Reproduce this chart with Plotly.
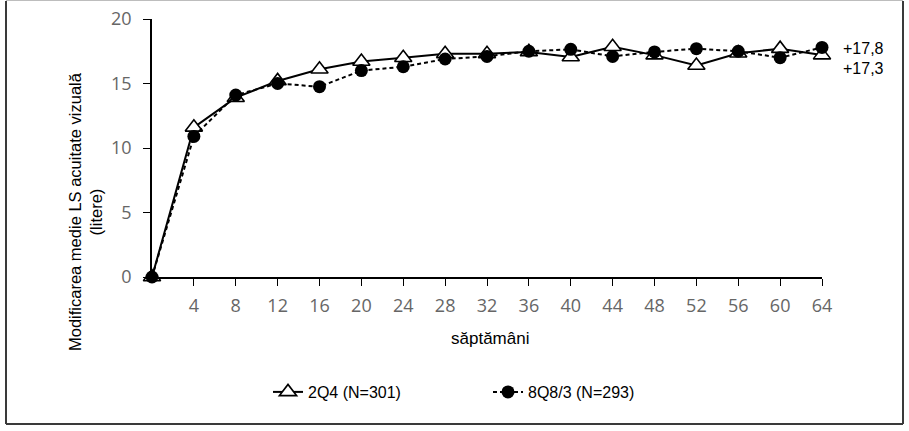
import plotly.graph_objects as go

weeks = [0, 4, 8, 12, 16, 20, 24, 28, 32, 36, 40, 44, 48, 52, 56, 60, 64]
q4_values = [0.0, 11.6, 13.9, 15.2, 16.1, 16.7, 17.0, 17.3, 17.3, 17.45, 17.05, 17.85, 17.2, 16.4, 17.35, 17.7, 17.2]
q8_values = [0.0, 10.9, 14.1, 15.0, 14.75, 16.0, 16.3, 16.9, 17.1, 17.5, 17.65, 17.1, 17.45, 17.7, 17.5, 17.0, 17.8]
x_ticks = [4, 8, 12, 16, 20, 24, 28, 32, 36, 40, 44, 48, 52, 56, 60, 64]
y_ticks = [0, 5, 10, 15, 20]
series_names = ["2Q4 (N=301)", "8Q8/3 (N=293)"]
end_labels = ["+17,8", "+17,3"]

W, H = 909, 431
L, R, T, B = 152, 87, 19, 154
pw, ph = W - L - R, H - T - B

def px_x(p):
    return (p - L) / pw

def px_y(p):
    return (H - B - p) / ph

fig = go.Figure()
fig.add_trace(go.Scatter(
    x=weeks, y=q4_values, name=series_names[0], mode="lines+markers",
    line=dict(color="black", width=2),
    marker=dict(symbol="triangle-up", size=15, color="white",
                line=dict(color="black", width=1.6)),
    cliponaxis=False,
))
fig.add_trace(go.Scatter(
    x=weeks, y=q8_values, name=series_names[1], mode="lines+markers",
    line=dict(color="black", width=2, dash="4px,3px"),
    marker=dict(symbol="circle", size=13, color="black"),
    cliponaxis=False,
))

tick_font = dict(family="'Open Sans', sans-serif", size=18, color="#666666")

fig.update_xaxes(
    range=[0, 64], tickvals=x_ticks, ticktext=[str(v) for v in x_ticks],
    showline=True, linecolor="black", linewidth=1.5,
    ticks="outside", ticklen=7, tickwidth=1, tickcolor="black",
    showgrid=False, zeroline=False, tickfont=tick_font,
    ticklabelstandoff=5,
)
fig.update_yaxes(
    range=[0, 20], tickvals=y_ticks,
    showline=True, linecolor="black", linewidth=1.5,
    ticks="outside", ticklen=7, tickwidth=1, tickcolor="black",
    showgrid=False, zeroline=False, tickfont=tick_font,
    ticklabelstandoff=8,
)

text_font = dict(family="'Liberation Sans', Arial, sans-serif", size=16, color="black")

annotations = [
    dict(x=px_x(85), y=px_y(212), xref="paper", yref="paper",
         text="Modificarea medie LS acuitate vizuală<br>(litere)", textangle=-90,
         showarrow=False, font=dict(text_font, size=16.5), xanchor="center", yanchor="middle"),
    dict(x=px_x(490), y=px_y(338), xref="paper", yref="paper",
         text="săptămâni", showarrow=False, font=dict(text_font, size=17),
         xanchor="center", yanchor="middle"),
    dict(x=weeks[-1], y=q8_values[-1], xref="x", yref="y", text=end_labels[0],
         showarrow=False, font=text_font, xanchor="left", yanchor="middle",
         xshift=19, yshift=-1),
    dict(x=weeks[-1], y=q4_values[-1], xref="x", yref="y", text=end_labels[1],
         showarrow=False, font=text_font, xanchor="left", yanchor="middle",
         xshift=19, yshift=-13),
]

shapes = [
    dict(type="line", xref="paper", yref="paper", x0=px_x(6), x1=px_x(6), y0=px_y(1), y1=px_y(424),
         line=dict(color="#3a3a3a", width=2)),
    dict(type="line", xref="paper", yref="paper", x0=px_x(6), x1=px_x(903), y0=px_y(424), y1=px_y(424),
         line=dict(color="#3a3a3a", width=2)),
    dict(type="line", xref="paper", yref="paper", x0=px_x(903), x1=px_x(903), y0=px_y(1), y1=px_y(424),
         line=dict(color="#3a3a3a", width=2)),
    dict(type="line", xref="paper", yref="paper", x0=px_x(6), x1=px_x(903), y0=px_y(0.5), y1=px_y(0.5),
         line=dict(color="#bdbdbd", width=1)),
]

fig.update_layout(
    width=W, height=H,
    margin=dict(l=L, r=R, t=T, b=B, autoexpand=False),
    plot_bgcolor="white", paper_bgcolor="white",
    showlegend=True,
    legend=dict(orientation="h", x=px_x(268), y=px_y(392), xanchor="left", yanchor="middle",
                font=text_font, entrywidth=175, entrywidthmode="pixels",
                bgcolor="rgba(0,0,0,0)"),
    annotations=annotations,
    shapes=shapes,
)

fig.write_html("out.html")
